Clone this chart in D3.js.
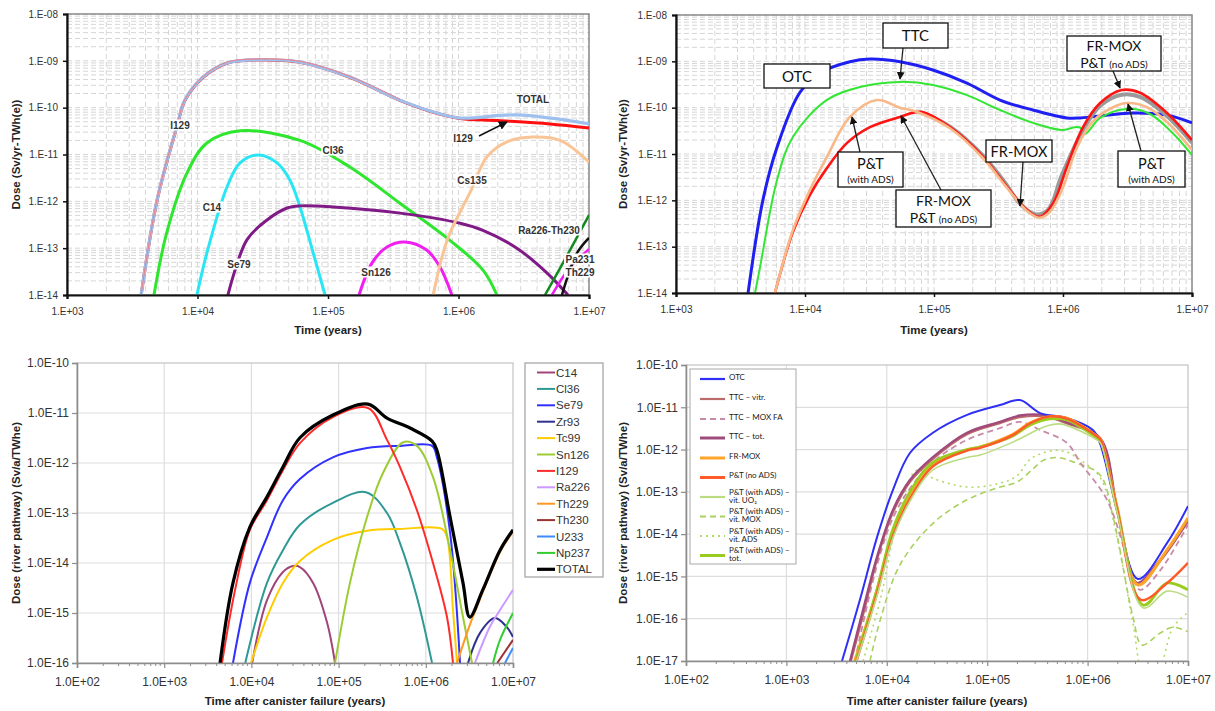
<!DOCTYPE html>
<html><head><meta charset="utf-8">
<script src="https://cdn.jsdelivr.net/npm/d3@7"></script>
<style>body{margin:0;background:#fff}svg{display:block}</style>
</head><body>
<svg id="c" width="1215" height="711"></svg>
<script>
// ---------------- DATA ----------------
// Top-left: nuclide contributions (Sv/yr-TWh(e)) vs time (years)
const tlYTicks = [1e-8,1e-9,1e-10,1e-11,1e-12,1e-13,1e-14];
const tlXTicks = [1e3,1e4,1e5,1e6,1e7];
const tlTotal = [[3.7e3,1e-14],[4.9e3,1.07e-12],[7.0e3,4.3e-11],[8.0e3,1.45e-10],[1.1e4,4.5e-10],[1.68e4,9e-10],[3.0e4,1.05e-9],[6.1e4,9.4e-10],[1.47e5,4.5e-10],[3.56e5,1.45e-10],[6.4e5,8.1e-11],[1.03e6,6e-11],[2.8e6,7.0e-11],[1e7,4.5e-11]];
const tlI129 = [[3.7e3,1e-14],[4.9e3,1.05e-12],[7.0e3,4.2e-11],[8.0e3,1.42e-10],[1.1e4,4.4e-10],[1.68e4,8.9e-10],[3.0e4,1.04e-9],[6.1e4,9.3e-10],[1.47e5,4.45e-10],[3.56e5,1.43e-10],[6.4e5,8.0e-11],[1.03e6,5.9e-11],[2.0e6,5.3e-11],[5.0e6,4.5e-11],[1e7,3.7e-11]];
const tlCl36 = [[4.64e3,1e-14],[5.8e3,2.1e-13],[8.3e3,4.0e-12],[1.18e4,1.76e-11],[2.12e4,3.2e-11],[6.1e4,2.0e-11],[1.47e5,5.4e-12],[3.56e5,9.1e-13],[8.6e5,1.47e-13],[1.54e6,3.4e-14],[1.97e6,1e-14]];
const tlC14 = [[9.9e3,1e-14],[1.18e4,7.9e-14],[1.68e4,2.0e-12],[2.12e4,6.6e-12],[2.96e4,9.8e-12],[4.07e4,6.6e-12],[5.1e4,2.85e-12],[6.1e4,7.6e-13],[7.7e4,7.9e-14],[9.5e4,1e-14]];
const tlSe79 = [[1.71e4,1e-14],[2.39e4,1.5e-13],[3.41e4,4.0e-13],[4.86e4,7.2e-13],[6.1e4,8.0e-13],[1.09e5,7.6e-13],[3.56e5,5.6e-13],[1.03e6,3.4e-13],[1.54e6,2.4e-13],[2.8e6,1.0e-13],[4.8e6,2.9e-14],[6.9e6,1e-14]];
const tlSn126 = [[1.73e5,1e-14],[2.17e5,4.8e-14],[2.83e5,1.06e-13],[3.89e5,1.35e-13],[5.7e5,9.1e-14],[7.2e5,4.0e-14],[8.9e5,1e-14]];
const tlCs135 = [[6.4e5,1e-14],[8.2e5,1.5e-13],[1.27e6,1.9e-12],[1.65e6,8.9e-12],[2.35e6,1.86e-11],[3.7e6,2.35e-11],[6.0e6,2.0e-11],[1e7,6.9e-12]];
const tlRaTh = [[4.6e6,1e-14],[6.8e6,7e-14],[1e7,5.1e-13]];
const tlPa231 = [[6.2e6,1e-14],[8.1e6,7.9e-14],[1e7,1.66e-13]];
const tlTh229 = [[5.2e6,1e-14],[7.1e6,3.8e-14],[1e7,9.5e-14]];

// Top-right: fuel cycle scenarios
const trOTC = [[3.62e3,1e-14],[4.72e3,1.02e-12],[6.07e3,1.4e-11],[9.1e3,2.1e-10],[1.31e4,5.6e-10],[2.23e4,9.8e-10],[3.19e4,1.12e-9],[5.45e4,9.8e-10],[9.8e4,6.5e-10],[1.8e5,3.4e-10],[3.25e5,1.46e-10],[5.85e5,8.9e-11],[1.07e6,6.0e-11],[1.36e6,6.0e-11],[3.49e6,7.7e-11],[6.4e6,6.9e-11],[1e7,4.7e-11]];
const trTTC = [[4.1e3,1e-14],[4.48e3,3.6e-14],[6.07e3,2.75e-12],[8.07e3,2.35e-11],[1.48e4,1.47e-10],[2.67e4,2.8e-10],[5.45e4,3.6e-10],[9.8e4,3.1e-10],[1.8e5,1.87e-10],[3.25e5,8.9e-11],[5.85e5,4.7e-11],[1.0e6,3.3e-11],[1.24e6,3.8e-11],[1.36e6,3.7e-11],[1.48e6,2.7e-11],[1.94e6,6.0e-11],[3.13e6,9.4e-11],[4.72e6,7.3e-11],[7.1e6,2.8e-11],[1e7,9.5e-12]];
const trPTwithADS = [[5.85e3,1e-14],[8.07e3,2.3e-13],[1.09e4,1.66e-12],[1.48e4,8.7e-12],[2.23e4,6.3e-11],[3.6e4,1.46e-10],[5.45e4,1.0e-10],[7.4e4,8.1e-11],[1.33e5,3.6e-11],[2.4e5,8.1e-12],[3.68e5,1.86e-12],[5.26e5,5.9e-13],[6.6e5,4.2e-13],[7.9e5,5.6e-13],[9.8e5,1.66e-12],[1.28e6,1.35e-11],[1.71e6,5.1e-11],[2.44e6,1.02e-10],[3.13e6,1.26e-10],[4.48e6,1.02e-10],[6.4e6,4.9e-11],[1e7,1.23e-11]];
const trFRMOXnoADS = [[5.85e3,1e-14],[8.07e3,2.1e-13],[1.09e4,1.3e-12],[1.48e4,5.0e-12],[2.12e4,1.74e-11],[3.19e4,3.8e-11],[5.45e4,6.3e-11],[7.8e4,8.1e-11],[1.33e5,3.8e-11],[2.4e5,8.7e-12],[3.68e5,1.95e-12],[5.26e5,6.2e-13],[6.6e5,4.4e-13],[8.4e5,8.7e-13],[1.07e6,5.2e-12],[1.43e6,3.8e-11],[1.94e6,1.26e-10],[2.86e6,2.4e-10],[3.95e6,2.1e-10],[6.4e6,7.7e-11],[1e7,2.0e-11]];
const trFRMOX = [[7.8e4,8.1e-11],[1.33e5,3.9e-11],[2.4e5,9.2e-12],[3.68e5,2.1e-12],[4.6e5,8.7e-13],[6.07e5,5.0e-13],[7.65e5,6.2e-13],[9.8e5,3.5e-12],[1.43e6,3.3e-11],[1.94e6,1.1e-10],[2.86e6,1.9e-10],[3.95e6,1.7e-10],[6.4e6,6.6e-11],[1e7,1.75e-11]];

// Bottom-left: river pathway dose per nuclide (Sv/a/TWhe)
const blNames = ["C14","Cl36","Se79","Zr93","Tc99","Sn126","I129","Ra226","Th229","Th230","U233","Np237","TOTAL"];
const blColors = ["#a0457a","#2e9994","#3030ff","#30308f","#ffcc00","#9ccc33","#ff2a2a","#cc99ff","#ff9922","#993333","#3d8cff","#33cc33","#000000"];
const blC14 = [[1.02e4,1e-16],[1.51e4,1.8e-15],[2.3e4,6.6e-15],[3.0e4,8.7e-15],[3.6e4,8.3e-15],[5.1e4,4.0e-15],[7.4e4,6.3e-16],[9.1e4,1e-16]];
const blCl36 = [[8.5e3,1e-16],[1.51e4,4.0e-15],[2.3e4,1.8e-14],[3.6e4,5.8e-14],[8.6e4,1.6e-13],[2.06e5,2.6e-13],[3.59e5,1.0e-13],[5.06e5,2.5e-14],[7.9e5,2.1e-15],[1.18e6,1e-16]];
const blSe79 = [[6.15e3,1e-16],[9.6e3,4.0e-15],[1.51e4,3.3e-14],[2.3e4,1.8e-13],[3.6e4,4.8e-13],[8.6e4,1.3e-12],[2.12e5,2.0e-12],[5.1e5,2.2e-12],[1.18e6,2.2e-12],[1.34e6,1.3e-12],[1.9e6,4.0e-14],[2.47e6,1e-16]];
const blZr93 = [[3.05e6,1e-16],[4.19e6,4.0e-16],[6.2e6,7.9e-16],[8.5e6,5.2e-16],[1e7,3.3e-16]];
const blTc99 = [[9.9e3,1e-16],[1.51e4,8.3e-16],[2.3e4,4.0e-15],[3.6e4,1.1e-14],[8.6e4,2.9e-14],[2.12e5,4.4e-14],[5.1e5,4.8e-14],[1.53e6,4.8e-14],[1.75e6,3.3e-14],[2.05e6,1.15e-15],[2.28e6,1e-16]];
const blSn126 = [[9.1e4,1e-16],[1.35e5,4.0e-15],[2.12e5,8.3e-14],[3.23e5,6.3e-13],[5.5e5,2.6e-12],[7.9e5,2.2e-12],[1.21e6,5.2e-13],[1.9e6,1.8e-14],[2.67e6,8.3e-16],[3.39e6,1e-16]];
const blI129 = [[4.6e3,1e-16],[6.5e3,2.9e-15],[9.6e3,4.6e-14],[1.51e4,1.8e-13],[2.3e4,7.2e-13],[3.6e4,2.5e-12],[8.6e4,8.3e-12],[2.17e5,1.26e-11],[3.59e5,2.9e-12],[5.06e5,8.3e-13],[7.9e5,1.15e-13],[1.21e6,1e-14],[1.75e6,8.3e-16],[2.05e6,1e-16]];
const blRa226 = [[3.66e6,1e-16],[5.4e6,5.2e-16],[7.1e6,1.15e-15],[1e7,2.9e-15]];
const blTh229 = [[2.28e6,1e-16],[3.2e6,5.8e-16],[4.5e6,2.6e-15],[7.1e6,1.66e-14],[1e7,4.2e-14]];
const blTh230 = [[6.6e6,1e-16],[1e7,2.9e-16]];
const blU233 = [[8.1e6,1e-16],[1e7,2.0e-16]];
const blNp237 = [[5.9e6,1e-16],[7.1e6,2.9e-16],[1e7,1e-15]];
const blTotal = [[4.37e3,1e-16],[6.15e3,4.0e-15],[9.6e3,5.2e-14],[1.51e4,2.1e-13],[2.3e4,8.3e-13],[3.6e4,3.2e-12],[8.6e4,9.1e-12],[2.17e5,1.5e-11],[3.59e5,7.9e-12],[6.6e5,5.0e-12],[1.18e6,2.75e-12],[1.34e6,1.8e-12],[1.9e6,8.3e-14],[2.67e6,4.0e-15],[3.2e6,8.3e-16],[4.5e6,2.9e-15],[7.1e6,1.8e-14],[1e7,4.6e-14]];
const blXTicks = [1e2,1e3,1e4,1e5,1e6,1e7];
const blYTicks = [1e-10,1e-11,1e-12,1e-13,1e-14,1e-15,1e-16];

// Bottom-right: scenarios, river pathway
const brNames = [["OTC"],["TTC – vitr."],["TTC – MOX FA"],["TTC – tot."],["FR-MOX"],["P&T (no ADS)"],["P&T (with ADS) –","vit. UO₂"],["P&T (with ADS) –","vit. MOX"],["P&T (with ADS) –","vit. ADS"],["P&T (with ADS) –","tot."]];
const brColors = ["#2f2ff5","#bd6a6a","#c88aa8","#a04a7c","#ffa42a","#ff5a2a","#bcdc84","#a9d160","#b3d968","#99cc1f"];
const brOTC = [[3.58e3,1e-17],[5.4e3,2.8e-16],[8.0e3,8.5e-15],[1.15e4,1.1e-13],[1.7e4,8.3e-13],[2.88e4,2.5e-12],[6.3e4,6.6e-12],[1.34e5,1.13e-11],[2.12e5,1.48e-11],[3.36e5,7.3e-12],[6.2e5,5.6e-12],[1.13e6,2.9e-12],[1.33e6,1.4e-12],[1.96e6,3.7e-14],[3.18e6,8.7e-16],[6.2e6,6.2e-15],[1e7,4.6e-14]];
const brTTCvitr = [[4.4e3,1e-17],[5.9e3,1.4e-16],[8.0e3,2.5e-15],[1.15e4,3.2e-14],[1.7e4,1.7e-13],[2.88e4,6.0e-13],[6.3e4,2.3e-12],[1.34e5,4.2e-12],[2.12e5,5.8e-12],[3.95e5,5.9e-12],[6.2e5,4.1e-12],[1.33e6,1.8e-12],[1.96e6,4.2e-14],[3.2e6,6.5e-16],[5.3e6,2.3e-15],[1e7,2.0e-14]];
const brTTCmox = [[4.8e3,1e-17],[8.0e3,1.86e-15],[1.15e4,2.4e-14],[1.7e4,1.2e-13],[2.88e4,5.1e-13],[6.3e4,1.7e-12],[1.34e5,3.2e-12],[2.12e5,4.5e-12],[3.36e5,2.9e-12],[6.2e5,1.45e-12],[8.5e5,4.8e-13],[1.56e6,6.5e-14],[2.65e6,1.66e-15],[3.33e6,4.8e-16],[5.3e6,1.4e-15],[1e7,1.66e-14]];
const brTTCtot = [[4.3e3,1e-17],[5.8e3,1.6e-16],[8.0e3,2.9e-15],[1.15e4,3.7e-14],[1.7e4,1.9e-13],[2.88e4,6.6e-13],[6.3e4,2.5e-12],[1.34e5,4.5e-12],[2.12e5,6.4e-12],[3.95e5,6.4e-12],[6.2e5,4.4e-12],[1.33e6,1.87e-12],[1.96e6,4.4e-14],[3.1e6,7e-16],[5.3e6,2.5e-15],[1e7,2.1e-14]];
const brFRMOX = [[4.8e3,1e-17],[8.0e3,4.8e-16],[1.15e4,1.07e-14],[1.7e4,7.6e-14],[2.88e4,4.3e-13],[6.3e4,9.8e-13],[8.5e4,1.15e-12],[1.8e5,2.3e-12],[2.68e5,4.3e-12],[4.2e5,6.0e-12],[6.2e5,5.5e-12],[1.23e6,2.1e-12],[1.35e6,1.7e-12],[1.96e6,4.4e-14],[3.18e6,6.3e-16],[6.2e6,4.3e-15],[1e7,2.4e-14]];
const brPTnoADS = [[5.0e3,1e-17],[8.0e3,4.0e-16],[1.15e4,9e-15],[1.7e4,6.8e-14],[2.88e4,4.0e-13],[6.3e4,9.5e-13],[8.5e4,1.1e-12],[1.8e5,2.2e-12],[2.68e5,4.2e-12],[4.2e5,6.1e-12],[6.2e5,5.4e-12],[1.23e6,2.1e-12],[1.35e6,1.7e-12],[1.96e6,4.0e-14],[3.4e6,2.8e-16],[6.2e6,7e-16],[1e7,2.1e-15]];
const brPTvitUO2 = [[5.0e3,1e-17],[8.0e3,3.5e-16],[1.15e4,8e-15],[1.7e4,6e-14],[2.88e4,3.3e-13],[6.3e4,6.5e-13],[8.5e4,7.4e-13],[1.8e5,1.5e-12],[3.9e5,3.6e-12],[5.5e5,4.0e-12],[1.23e6,1.7e-12],[1.35e6,1.4e-12],[1.96e6,3.5e-14],[3.6e6,1.8e-16],[6.2e6,4.5e-16],[1e7,3.2e-16]];
const brPTvitMOX = [[6.8e3,1e-17],[8.6e3,9.3e-17],[1.35e4,1.86e-15],[2.88e4,1.8e-14],[6.3e4,6.5e-14],[1.34e5,1.3e-13],[1.98e5,1.7e-13],[2.86e5,3.5e-13],[3.6e5,5.5e-13],[5.0e5,6.5e-13],[7.2e5,5.1e-13],[1.33e6,2.5e-13],[1.79e6,2.6e-14],[2.83e6,1.1e-16],[3.48e6,2.4e-17],[5.3e6,4.6e-17],[7.1e6,6.3e-17],[1e7,4.9e-17]];
const brPTvitADS = [[5.8e3,1e-17],[8.6e3,2.8e-16],[1.35e4,3.7e-14],[2.0e4,3.3e-13],[2.88e4,2.1e-13],[6.3e4,1.3e-13],[1.34e5,1.6e-13],[1.98e5,2.4e-13],[2.7e5,6.0e-13],[4.5e5,9.5e-13],[6.2e5,8.7e-13],[8.5e5,5.6e-13],[1.33e6,2.2e-13],[1.96e6,8.5e-15],[2.83e6,7.9e-17],[3.65e6,5e-18],[4.9e6,5e-18],[7.1e6,6.3e-17],[1e7,1.4e-16]];
const brPTtot = [[4.9e3,1e-17],[8.0e3,5e-16],[1.15e4,1.3e-14],[1.7e4,1.0e-13],[2.88e4,5.0e-13],[6.3e4,1.0e-12],[8.5e4,1.15e-12],[1.8e5,2.1e-12],[2.68e5,3.8e-12],[4.2e5,5.3e-12],[6.2e5,5.0e-12],[1.23e6,1.9e-12],[1.35e6,1.6e-12],[1.96e6,3.8e-14],[3.6e6,2.1e-16],[6.2e6,7e-16],[1e7,4.8e-16]];
const brXTicks = [1e2,1e3,1e4,1e5,1e6,1e7];
const brYTicks = [1e-10,1e-11,1e-12,1e-13,1e-14,1e-15,1e-16,1e-17];

// ---------------- DRAWING ----------------
const svg = d3.select("#c");
const ARIAL = "'Liberation Sans', Arial, Helvetica, sans-serif";
const LATO = "Lato, 'Open Sans', sans-serif";
const defs = svg.append("defs");
defs.append("marker").attr("id","arr").attr("viewBox","0 0 10 10").attr("refX",9).attr("refY",5)
  .attr("markerWidth",6).attr("markerHeight",6).attr("orient","auto")
  .append("path").attr("d","M0,0 L10,5 L0,10 z").attr("fill","#111");

function expStr(v){const e=Math.round(Math.log10(v));return (e<0?"-":"+")+String(Math.abs(e)).padStart(2,"0");}
const fmtA = v => "1.E"+expStr(v);
const fmtB = v => "1.0E"+expStr(v);

function makePanel(o){
  const x = d3.scaleLog().domain(o.xd).range([o.l,o.r]);
  const y = d3.scaleLog().domain(o.yd).range([o.b,o.t]);
  const g = svg.append("g");
  defs.append("clipPath").attr("id","clip-"+o.id).append("rect")
    .attr("x",o.l).attr("y",o.t).attr("width",o.r-o.l).attr("height",o.b-o.t);
  const grid = g.append("g");
  if(o.style==="A"){
    grid.selectAll(null).data(x.ticks()).join("line")
      .attr("x1",d=>x(d)).attr("x2",d=>x(d)).attr("y1",o.t).attr("y2",o.b)
      .attr("stroke","#d6d6d6").attr("stroke-dasharray","5,3");
    grid.selectAll(null).data(y.ticks()).join("line")
      .attr("y1",d=>y(d)).attr("y2",d=>y(d)).attr("x1",o.l).attr("x2",o.r)
      .attr("stroke","#d6d6d6").attr("stroke-dasharray","5,3");
  } else {
    grid.selectAll(null).data(o.xt.slice(1,-1)).join("line")
      .attr("x1",d=>x(d)).attr("x2",d=>x(d)).attr("y1",o.t).attr("y2",o.b)
      .attr("stroke","#dedede").attr("stroke-width",1.2);
    grid.selectAll(null).data(o.yt.slice(1,-1)).join("line")
      .attr("y1",d=>y(d)).attr("y2",d=>y(d)).attr("x1",o.l).attr("x2",o.r)
      .attr("stroke","#dedede").attr("stroke-width",1.2);
  }
  if(o.style==="A"){
    g.append("rect").attr("x",o.l).attr("y",o.t).attr("width",o.r-o.l).attr("height",o.b-o.t)
      .attr("fill","none").attr("stroke","#8a8a8a").attr("stroke-width",1.5);
  } else {
    g.append("rect").attr("x",o.l).attr("y",o.t).attr("width",o.r-o.l).attr("height",o.b-o.t)
      .attr("fill","none").attr("stroke","#c4c4c4").attr("stroke-width",1.2);
  }
  const lines = g.append("g").attr("clip-path","url(#clip-"+o.id+")");
  const axes = g.append("g");
  const fmt = o.style==="A"?fmtA:fmtB;
  const axisCol = o.style==="A"?"#111":"#8c8c8c";
  const axW = o.style==="A"?2.2:1.6;
  const ya = axes.append("g").attr("transform",`translate(${o.l},0)`)
    .call(d3.axisLeft(y).tickValues(o.yt).tickFormat(fmt).tickSize(o.style==="A"?4:5).tickPadding(o.style==="A"?5:3));
  ya.select(".domain").attr("stroke",axisCol).attr("stroke-width",axW);
  ya.selectAll(".tick line").attr("stroke",axisCol).attr("stroke-width",o.style==="A"?1.5:1.2);
  ya.selectAll(".tick text").attr("font-family",ARIAL).attr("font-size",o.style==="A"?10:12).attr("fill","#333");
  const xa = axes.append("g").attr("transform",`translate(0,${o.b})`)
    .call(d3.axisBottom(x).tickValues(o.xt).tickFormat(fmt).tickSize(o.style==="A"?4:5).tickPadding(9));
  xa.select(".domain").attr("stroke",axisCol).attr("stroke-width",axW);
  xa.selectAll(".tick line").attr("stroke",axisCol).attr("stroke-width",o.style==="A"?1.5:1.2);
  xa.selectAll(".tick text").attr("font-family",ARIAL).attr("font-size",o.style==="A"?10:12).attr("fill","#333");
  if(o.style==="B"){
    axes.selectAll(null).data(x.ticks().filter(v=>o.xt.indexOf(v)<0)).join("line")
      .attr("x1",d=>x(d)).attr("x2",d=>x(d)).attr("y1",o.b).attr("y2",o.b+3)
      .attr("stroke",axisCol).attr("stroke-width",1);
  }
  g.append("text").attr("x",o.xtx).attr("y",o.xty).attr("text-anchor","middle")
    .attr("font-family",ARIAL).attr("font-weight","bold").attr("font-size",11.5).attr("fill","#222").text(o.xtitle);
  g.append("text").attr("transform",`translate(${o.ytx},${(o.t+o.b)/2}) rotate(-90)`).attr("text-anchor","middle")
    .attr("dy","0.35em").attr("font-family",ARIAL).attr("font-weight","bold").attr("font-size",11.5).attr("fill","#222").text(o.ytitle);
  const line = d3.line().x(d=>x(d[0])).y(d=>y(d[1])).curve(d3.curveCatmullRom.alpha(0.5));
  const over = g.append("g");
  function series(data,color,width,dash){
    const p = lines.append("path").attr("d",line(data)).attr("fill","none").attr("stroke",color)
      .attr("stroke-width",width).attr("stroke-linejoin","round").attr("stroke-linecap","butt");
    if(dash) p.attr("stroke-dasharray",dash);
    return p;
  }
  return {x,y,g:over,series};
}

// ---------- Top-left ----------
const TL = makePanel({id:"tl",style:"A",l:67,r:589,t:14,b:295,xd:[1e3,1e7],yd:[1e-14,1e-8],
  xt:tlXTicks,yt:tlYTicks,xtitle:"Time (years)",xtx:328,xty:334,ytitle:"Dose (Sv/yr-TWh(e))",ytx:16});
TL.series(tlC14,"#2ae6f5",3);
TL.series(tlCl36,"#2ee62e",3);
TL.series(tlSe79,"#7f1a86",3);
TL.series(tlSn126,"#f01ef0",3);
TL.series(tlCs135,"#f9c496",3);
TL.series(tlRaTh,"#138a1f",2.5);
TL.series(tlTh229,"#f01ef0",2.5);
TL.series(tlPa231,"#111",2.5);
TL.series(tlI129,"#ff1010",3);
TL.series(tlTotal,"#9dc0ee",3.2);
TL.series(tlI129.slice(0,10),"#ff7070",0.8).attr("transform","translate(0,-1)");

function label(G,txt,cx,cy,opts={}){
  const lg = G.g.append("g");
  const t = lg.append("text").attr("x",cx).attr("y",cy).attr("text-anchor","middle").attr("dy","0.35em")
    .attr("font-family",ARIAL).attr("font-weight","bold").attr("font-size",opts.size||10).attr("fill","#333").text(txt);
  if(opts.bg!==false){
    const bb = t.node().getBBox();
    lg.insert("rect",()=>t.node()).attr("x",bb.x-1.5).attr("y",bb.y).attr("width",bb.width+3).attr("height",bb.height).attr("fill","#fff");
  }
  return t;
}
label(TL,"I129",180,125);
label(TL,"Cl36",333,150);
label(TL,"C14",212,207);
label(TL,"Se79",239,264);
label(TL,"Sn126",376,272);
label(TL,"Cs135",472,180);
label(TL,"TOTAL",533,99,{bg:false});
label(TL,"I129",463,138);
label(TL,"Ra226-Th230",549,230);
label(TL,"Pa231",580,259);
label(TL,"Th229",580,272);
TL.g.append("line").attr("x1",479).attr("y1",136).attr("x2",507).attr("y2",122).attr("stroke","#111").attr("stroke-width",1.5).attr("marker-end","url(#arr)");

// ---------- Top-right ----------
const TR = makePanel({id:"tr",style:"A",l:676,r:1192,t:15,b:293,xd:[1e3,1e7],yd:[1e-14,1e-8],
  xt:tlXTicks,yt:tlYTicks,xtitle:"Time (years)",xtx:934,xty:334,ytitle:"Dose (Sv/yr-TWh(e))",ytx:623});
TR.series(trOTC,"#1f1ff2",3);
TR.series(trTTC,"#33e633",2);
TR.series(trFRMOX,"#9a9a9a",4);
TR.series(trFRMOXnoADS,"#ff1414",2.6);
TR.series(trPTwithADS,"#f8b888",2.6);

function box(G,x0,y0,w,h,lines){
  G.g.append("rect").attr("x",x0).attr("y",y0).attr("width",w).attr("height",h).attr("fill","#fff").attr("stroke","#111").attr("stroke-width",1.3);
  lines.forEach(ln=>{
    const t = G.g.append("text").attr("x",x0+w/2).attr("y",ln.y).attr("text-anchor","middle").attr("font-family",LATO).attr("fill","#111");
    ln.parts.forEach(p=>t.append("tspan").attr("font-size",p[1]).text(p[0]));
  });
}
function arrow(G,x1,y1,x2,y2){
  G.g.append("line").attr("x1",x1).attr("y1",y1).attr("x2",x2).attr("y2",y2).attr("stroke","#222").attr("stroke-width",1.3).attr("marker-end","url(#arr)");
}
arrow(TR,903,48,900,79);
arrow(TR,860,152,852,117);
arrow(TR,941,190,901,116);
arrow(TR,1023,162,1020,206);
arrow(TR,1113,71,1120,88);
arrow(TR,1141,151,1128,104);
box(TR,764,64,66,24,[{y:82,parts:[["OTC",15]]}]);
box(TR,883,23,65,25,[{y:41,parts:[["TTC",15]]}]);
box(TR,838,152,65,35,[{y:169,parts:[["P&T",14.5]]},{y:182.5,parts:[["(with ADS)",10]]}]);
box(TR,896,190,95,37,[{y:206,parts:[["FR-MOX",14]]},{y:222.5,parts:[["P&T ",14],["(no ADS)",10]]}]);
box(TR,986,140,66,22,[{y:156.5,parts:[["FR-MOX",14.5]]}]);
box(TR,1067,36,94,35,[{y:51,parts:[["FR-MOX",14]]},{y:67.5,parts:[["P&T ",14],["(no ADS)",10]]}]);
box(TR,1118,151,67,36,[{y:169,parts:[["P&T",14.5]]},{y:182.5,parts:[["(with ADS)",10]]}]);

// ---------- Bottom-left ----------
const BL = makePanel({id:"bl",style:"B",l:77,r:513,t:363,b:663,xd:[1e2,1e7],yd:[1e-16,1e-10],
  xt:blXTicks,yt:blYTicks,xtitle:"Time after canister failure (years)",xtx:295,xty:705,ytitle:"Dose (river pathway) (Sv/a/TWhe)",ytx:16});
const blSeries = [blC14,blCl36,blSe79,blZr93,blTc99,blSn126,blI129,blRa226,blTh229,blTh230,blU233,blNp237,blTotal];
blSeries.forEach((s,i)=>BL.series(s,blColors[i],i===12?3.2:2));
BL.g.append("rect").attr("x",525).attr("y",363).attr("width",78).attr("height",214).attr("fill","#fff").attr("stroke","#a0a0a0").attr("stroke-width",1.2);
blNames.forEach((n,i)=>{
  const yy = 372.5 + i*16.4;
  BL.g.append("line").attr("x1",537).attr("x2",555).attr("y1",yy).attr("y2",yy).attr("stroke",blColors[i]).attr("stroke-width",i===12?3.2:2);
  BL.g.append("text").attr("x",556).attr("y",yy).attr("dy","0.36em").attr("font-family",ARIAL).attr("font-size",11.5).attr("fill","#333").text(n);
});

// ---------- Bottom-right ----------
const BR = makePanel({id:"br",style:"B",l:686,r:1188,t:365,b:661,xd:[1e2,1e7],yd:[1e-17,1e-10],
  xt:brXTicks,yt:brYTicks,xtitle:"Time after canister failure (years)",xtx:937,xty:705,ytitle:"Dose (river pathway) (Sv/a/TWhe)",ytx:623});
const brSeries = [brOTC,brTTCvitr,brTTCmox,brTTCtot,brFRMOX,brPTnoADS,brPTvitUO2,brPTvitMOX,brPTvitADS,brPTtot];
const brWidths = [2,2,1.8,2.4,3,2.4,1.6,1.6,1.6,2.8];
const brDash = [null,null,"6,4",null,null,null,null,"6,4","2,4",null];
const brOrder = [8,7,2,1,3,0,4,9,5,6];
brOrder.forEach(i=>BR.series(brSeries[i],brColors[i],brWidths[i],brDash[i]));
BR.g.append("rect").attr("x",690).attr("y",369).attr("width",106).attr("height",195).attr("fill","#fff").attr("stroke","#a8a8a8").attr("stroke-width",1);
const brLineY = [379,399,419,438,458,477.5,497,516.5,536,555.5];
brNames.forEach((n,i)=>{
  const yy = brLineY[i];
  BR.g.append("line").attr("x1",700).attr("x2",725).attr("y1",yy).attr("y2",yy).attr("stroke",brColors[i])
    .attr("stroke-width",[2.2,2.2,2.2,3,3,3,2.2,2.2,2.2,3][i]).attr("stroke-dasharray",brDash[i]);
  if(n.length===1){
    BR.g.append("text").attr("x",729).attr("y",yy-2.2).attr("dy","0.35em").attr("font-family",LATO).attr("font-size",8).attr("fill","#222").text(n[0]);
  } else {
    BR.g.append("text").attr("x",729).attr("y",yy-2.3).attr("font-family",LATO).attr("font-size",8).attr("fill","#222").text(n[0]);
    BR.g.append("text").attr("x",729).attr("y",yy+5.5).attr("font-family",LATO).attr("font-size",8).attr("fill","#222").text(n[1]);
  }
});
</script>
</body></html>
